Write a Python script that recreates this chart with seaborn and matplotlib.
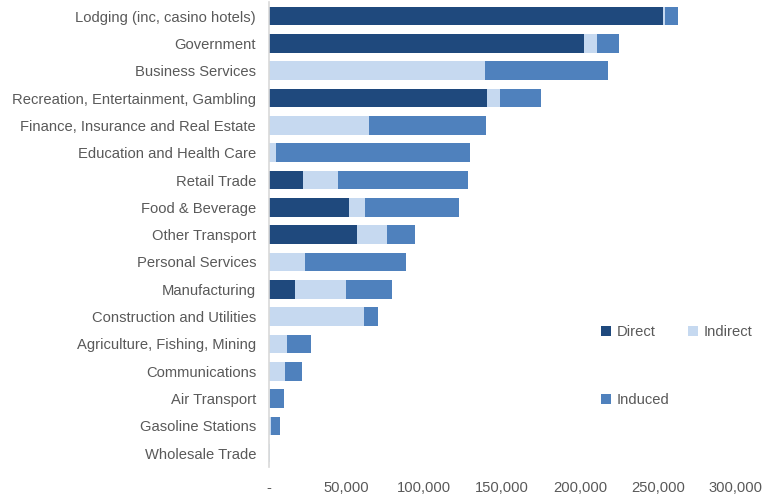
import matplotlib
matplotlib.use("Agg")
import matplotlib.pyplot as plt
import seaborn as sns
import pandas as pd
import numpy as np
from matplotlib.patches import Patch
from matplotlib.ticker import FuncFormatter

categories = [
    "Lodging (inc, casino hotels)", "Government", "Business Services",
    "Recreation, Entertainment, Gambling", "Finance, Insurance and Real Estate",
    "Education and Health Care", "Retail Trade", "Food & Beverage",
    "Other Transport", "Personal Services", "Manufacturing",
    "Construction and Utilities", "Agriculture, Fishing, Mining",
    "Communications", "Air Transport", "Gasoline Stations", "Wholesale Trade",
]
direct = [253500, 202500, 0, 140500, 0, 0, 21800, 51700, 56700, 0, 17200, 0, 0, 0, 0, 0, 0]
indirect = [1500, 8200, 139000, 8400, 64800, 5000, 22600, 10300, 19400, 23500, 32500, 61400, 12100, 10800, 1000, 1700, 600]
induced = [7800, 14400, 78800, 26100, 74600, 124700, 83500, 60100, 17700, 64900, 29700, 9000, 14900, 10600, 8600, 5400, 300]
series_names = ["Direct", "Indirect", "Induced"]
colors = ["#1F497D", "#C6D9F0", "#4F81BD"]
xticks = [0, 50000, 100000, 150000, 200000, 250000, 300000]

df = pd.DataFrame({"Category": categories, "Direct": direct,
                   "Indirect": indirect, "Induced": induced})
df["c1"] = df["Direct"]
df["c2"] = df["Direct"] + df["Indirect"]
df["c3"] = df["c2"] + df["Induced"]

plt.rcParams["font.family"] = ["Liberation Sans", "DejaVu Sans"]
fig = plt.figure(figsize=(7.73, 4.94), dpi=100)
ax = fig.add_axes([0.3475, 0.055, 0.604, 0.94])

for col, color in zip(["c3", "c2", "c1"], [colors[2], colors[1], colors[0]]):
    sns.barplot(data=df, x=col, y="Category", order=categories, color=color,
                width=0.68, ax=ax, orient="h", edgecolor="none", linewidth=0,
                saturation=1)

ax.set_xlim(0, 300000)
ax.set_xticks(xticks)
ax.xaxis.set_major_formatter(FuncFormatter(lambda v, p: "-" if v == 0 else f"{int(v):,}"))
ax.set_xlabel("")
ax.set_ylabel("")
for s in ["top", "right", "bottom"]:
    ax.spines[s].set_visible(False)
ax.spines["left"].set_color("#D9D9D9")
ax.spines["left"].set_linewidth(1.2)
txtc = "#595959"
ax.tick_params(axis="both", length=0, labelsize=10.6, colors=txtc)
ax.tick_params(axis="x", pad=10.5)
ax.tick_params(axis="y", pad=9)

order = [0, 2, 1]
handles = [Patch(facecolor=colors[i], edgecolor="none") for i in order]
labels = [series_names[i] for i in order]
leg = fig.legend(handles, labels, loc="upper left",
                 bbox_to_anchor=(0.7605, 0.369), ncol=2, frameon=False,
                 fontsize=10.6, handlelength=0.65, handleheight=0.65,
                 handletextpad=0.4, columnspacing=1.3, labelspacing=3.67)
for t in leg.get_texts():
    t.set_color(txtc)

fig.savefig("out.png", dpi=100)
